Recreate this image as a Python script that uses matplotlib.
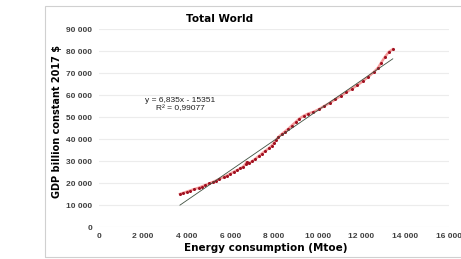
import matplotlib
matplotlib.use("Agg")
import matplotlib.pyplot as plt
import numpy as np
from matplotlib.patches import Rectangle
from matplotlib.ticker import FuncFormatter

energy = [3700, 3850, 4000, 4150, 4350, 4550, 4700, 4850, 5050, 5200, 5350, 5500,
          5700, 5850, 6000, 6150, 6300, 6450, 6600, 6700, 6750, 6850, 7000, 7150,
          7300, 7450, 7600, 7750, 7900, 8000, 8100, 8200, 8350, 8500, 8650, 8800,
          9000, 9150, 9350, 9550, 9800, 10050, 10300, 10550, 10800, 11050, 11300,
          11550, 11800, 12050, 12300, 12550, 12750, 12900, 13070, 13250, 13430]
gdp = [15000, 15500, 16000, 16500, 17200, 17800, 18400, 19000, 19800, 20400, 21100, 21800,
       22700, 23400, 24200, 25000, 25800, 26600, 27500, 28700, 29600, 28900, 29900, 31000,
       32200, 33400, 34600, 35700, 37000, 38300, 39600, 40900, 42200, 43400, 44600, 46000,
       47800, 49200, 50500, 51500, 52300, 53500, 55000, 56400, 58000, 59600, 61200,
       62800, 64400, 66200, 68200, 70300, 72300, 74700, 77300, 79600, 80800]
slope = 6.835
intercept = -15351
eq_text = "y = 6,835x - 15351"
r2_text = "R² = 0,99077"
title = "Total World"
xlabel = "Energy consumption (Mtoe)"
ylabel = "GDP billion constant 2017 $"
xticks = list(range(0, 16001, 2000))
yticks = list(range(0, 90001, 10000))

narrow = ["Liberation Sans Narrow", "Liberation Sans", "DejaVu Sans"]

fig = plt.figure(figsize=(4.61, 2.59), dpi=100)
fig.patches.append(Rectangle((45/461, 1-257/259), 1.0, 251/259, transform=fig.transFigure,
                             fill=False, edgecolor="#d0d0d0", linewidth=0.8, figure=fig))
ax = fig.add_axes([99/461, 1-227/259, 350/461, 198/259])

for s in ax.spines.values():
    s.set_visible(False)
ax.set_xlim(0, 16000)
ax.set_ylim(0, 90000)
ax.set_xticks(xticks)
ax.set_yticks(yticks)
fmt = FuncFormatter(lambda v, p: f"{int(v):,}".replace(",", " "))
ax.xaxis.set_major_formatter(fmt)
ax.yaxis.set_major_formatter(fmt)
ax.tick_params(length=0, labelsize=6, labelcolor="#404040")
ax.tick_params(axis="x", pad=4)
ax.tick_params(axis="y", pad=5)
for lab in ax.get_xticklabels() + ax.get_yticklabels():
    lab.set_fontweight("bold")
    lab.set_family(narrow)
ax.grid(axis="y", color="#ececec", linewidth=0.8)
ax.set_axisbelow(True)

ax.plot(energy, gdp, color="#f08080", linewidth=1.8, alpha=0.8, zorder=2)
ax.plot(energy, gdp, linestyle="none", marker="o", markersize=2.2, color="#a01020",
        markeredgewidth=0, zorder=3)
xt = np.array([min(energy), max(energy)])
ax.plot(xt, slope * xt + intercept, color="#405040", linewidth=0.6, zorder=4)

ax.text(3700, 57700, eq_text, fontsize=6, ha="center", va="center", color="#202020",
        family=narrow)
ax.text(3700, 53700, r2_text, fontsize=6, ha="center", va="center", color="#202020",
        family=narrow)

fig.text(220/461, 1-19/259, title, fontsize=7.5, fontweight="bold", ha="center", va="center")
fig.text(266/461, 1-248/259, xlabel, fontsize=7.5, fontweight="bold", ha="center", va="center")
fig.text(57/461, 1-121/259, ylabel, fontsize=7, fontweight="bold", ha="center", va="center",
         rotation=90)

fig.savefig("out.png", dpi=100)
